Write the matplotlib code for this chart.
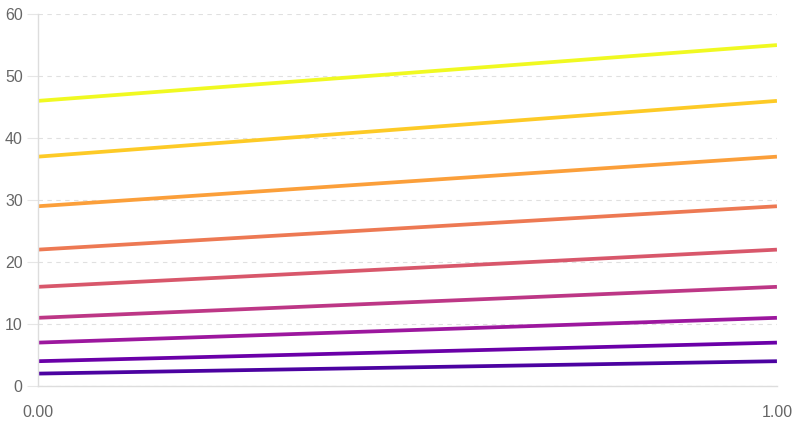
import matplotlib.pyplot as plt

x = [0, 1]
starts = [2, 4, 7, 11, 16, 22, 29, 37, 46]
ends = [4, 7, 11, 16, 22, 29, 37, 46, 55]
colors = ['#4c02a1', '#6a00a8', '#9c179e', '#bd3786', '#d8576b',
          '#ed7953', '#fb9f3a', '#fdca26', '#f0f921']
y_ticks = [0, 10, 20, 30, 40, 50, 60]
x_ticks = [0, 1]
x_labels = ['0.00', '1.00']

plt.rcParams['font.family'] = ['Liberation Sans', 'DejaVu Sans']

fig = plt.figure(figsize=(7.98, 4.26), dpi=100)
ax = fig.add_axes([0.0476, 0.0939, 0.926, 0.873])

for s, e, c in zip(starts, ends, colors):
    ax.plot(x, [s, e], color=c, linewidth=2.7, solid_capstyle='butt')

ax.set_xlim(0, 1)
ax.set_ylim(0, 60)
ax.set_yticks(y_ticks)
ax.set_xticks(x_ticks)
ax.set_xticklabels(x_labels)
ax.yaxis.grid(True, color='#e0e0e0', linestyle=(0, (4, 4)), linewidth=0.8)
ax.set_axisbelow(True)

for side in ['top', 'right']:
    ax.spines[side].set_visible(False)
for side in ['left', 'bottom']:
    ax.spines[side].set_color('#dddddd')
    ax.spines[side].set_linewidth(1)

ax.tick_params(axis='y', length=8, color='#e6e6e6', labelcolor='#666666',
               labelsize=11.5, pad=3)
ax.tick_params(axis='x', length=8, color='#ffffff', labelcolor='#666666',
               labelsize=11.5, pad=6)

fig.savefig('out.png', dpi=100)
